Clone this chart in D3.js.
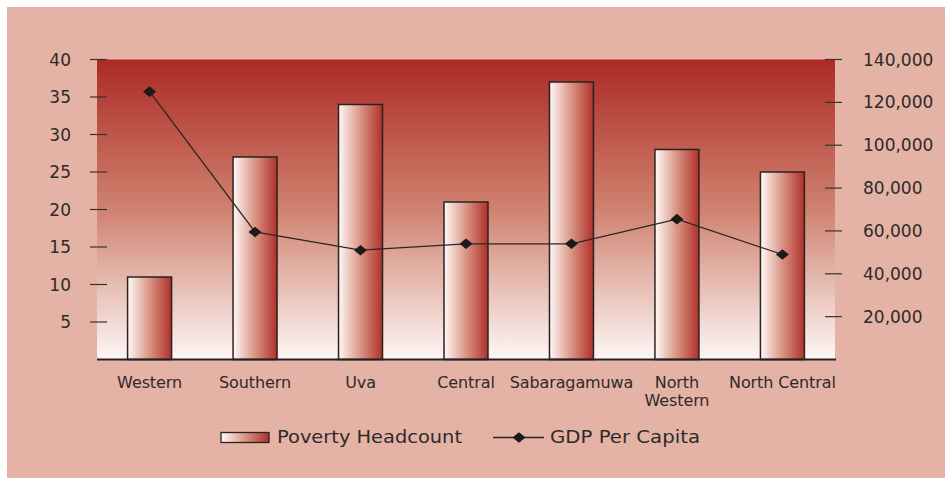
<!DOCTYPE html>
<html>
<head>
<meta charset="utf-8">
<script src="https://cdn.jsdelivr.net/npm/d3@7.9.0/dist/d3.min.js"></script>
<style>
  html, body { margin: 0; padding: 0; background: #fff; }
  svg { display: block; font-family: "DejaVu Sans", sans-serif; }
</style>
</head>
<body>
<svg id="chart" width="945" height="478"></svg>
<script>
const regions = ['Western', 'Southern', 'Uva', 'Central', 'Sabaragamuwa', 'North Western', 'North Central'];
const povertyHeadcount = [11, 27, 34, 21, 37, 28, 25];
const gdpPerCapita = [125000, 59500, 51000, 54000, 54000, 65500, 49000];
const leftTicks = [5, 10, 15, 20, 25, 30, 35, 40];
const rightTicks = [20000, 40000, 60000, 80000, 100000, 120000, 140000];

const svg = d3.select('#chart');
const plot = { left: 97, right: 835, top: 59.5, bottom: 359.5 };
const textColor = '#2e2a29';

// outer pink panel
svg.append('rect')
  .attr('x', 7).attr('y', 7)
  .attr('width', 938).attr('height', 471)
  .attr('fill', '#e4b3a5');

const defs = svg.append('defs');

const bgGrad = defs.append('linearGradient')
  .attr('id', 'bgGrad')
  .attr('x1', 0).attr('y1', 0).attr('x2', 0).attr('y2', 1);
bgGrad.append('stop').attr('offset', '0%').attr('stop-color', '#ad2a26');
bgGrad.append('stop').attr('offset', '50%').attr('stop-color', '#cf8270');
bgGrad.append('stop').attr('offset', '100%').attr('stop-color', '#fdf7f5');

const barGrad = defs.append('linearGradient')
  .attr('id', 'barGrad')
  .attr('x1', 0).attr('y1', 0).attr('x2', 1).attr('y2', 0);
barGrad.append('stop').attr('offset', '0%').attr('stop-color', '#fff9f7');
barGrad.append('stop').attr('offset', '50%').attr('stop-color', '#d99483');
barGrad.append('stop').attr('offset', '100%').attr('stop-color', '#b0302a');

// plot background
svg.append('rect')
  .attr('x', plot.left).attr('y', plot.top)
  .attr('width', plot.right - plot.left)
  .attr('height', plot.bottom - plot.top)
  .attr('fill', 'url(#bgGrad)');

let x = d3.scaleBand()
  .domain(regions)
  .range([plot.left, plot.right])
  .paddingInner(0.583)
  .paddingOuter(0.29);

let yLeft = d3.scaleLinear().domain([0, 40]).range([plot.bottom, plot.top]);
let yRight = d3.scaleLinear().domain([0, 140000]).range([plot.bottom, plot.top]);

// bars
svg.append('g')
  .selectAll('rect')
  .data(povertyHeadcount)
  .enter()
  .append('rect')
  .attr('x', (d, i) => x(regions[i]))
  .attr('y', (d) => yLeft(d))
  .attr('width', x.bandwidth())
  .attr('height', (d) => yLeft(0) - yLeft(d))
  .attr('fill', 'url(#barGrad)')
  .attr('stroke', '#2a2222')
  .attr('stroke-width', 1.5);

// x axis line
svg.append('line')
  .attr('x1', plot.left).attr('x2', plot.right + 1)
  .attr('y1', plot.bottom).attr('y2', plot.bottom)
  .attr('stroke', '#222').attr('stroke-width', 2.2);

// left axis ticks + labels
let leftG = svg.append('g');
leftG.selectAll('line')
  .data(leftTicks)
  .enter()
  .append('line')
  .attr('x1', 90).attr('x2', 107)
  .attr('y1', (d) => yLeft(d)).attr('y2', (d) => yLeft(d))
  .attr('stroke', '#333').attr('stroke-width', 1.2);
leftG.selectAll('text')
  .data(leftTicks)
  .enter()
  .append('text')
  .attr('x', 71)
  .attr('y', (d) => yLeft(d))
  .attr('dy', '0.36em')
  .attr('text-anchor', 'end')
  .attr('font-size', 17)
  .attr('fill', textColor)
  .text((d) => d);

// right axis ticks + labels
let rightG = svg.append('g');
rightG.selectAll('line')
  .data(rightTicks)
  .enter()
  .append('line')
  .attr('x1', 825).attr('x2', 842)
  .attr('y1', (d) => yRight(d)).attr('y2', (d) => yRight(d))
  .attr('stroke', '#333').attr('stroke-width', 1.2);
rightG.selectAll('text')
  .data(rightTicks)
  .enter()
  .append('text')
  .attr('x', 863)
  .attr('y', (d) => yRight(d))
  .attr('dy', '0.36em')
  .attr('font-size', 17)
  .attr('fill', textColor)
  .text((d) => d3.format(',')(d));

// category labels (wrap "North Western")
let catG = svg.append('g');
regions.forEach((name, i) => {
  let lines = name === 'North Western' ? ['North', 'Western'] : [name];
  let t = catG.append('text')
    .attr('x', x(name) + x.bandwidth() / 2)
    .attr('y', 388)
    .attr('text-anchor', 'middle')
    .attr('font-size', 16)
    .attr('letter-spacing', -0.1)
    .attr('fill', textColor);
  lines.forEach((l, j) => {
    t.append('tspan')
      .attr('x', x(name) + x.bandwidth() / 2)
      .attr('dy', j === 0 ? 0 : 18)
      .text(l);
  });
});

// GDP line
let line = d3.line()
  .x((d, i) => x(regions[i]) + x.bandwidth() / 2)
  .y((d) => yRight(d));

svg.append('path')
  .datum(gdpPerCapita)
  .attr('d', line)
  .attr('fill', 'none')
  .attr('stroke', '#2b2626')
  .attr('stroke-width', 1.3);

let diamond = d3.symbol().type(d3.symbolSquare).size(70);
svg.append('g')
  .selectAll('path')
  .data(gdpPerCapita)
  .enter()
  .append('path')
  .attr('d', diamond)
  .attr('transform', (d, i) =>
    `translate(${x(regions[i]) + x.bandwidth() / 2},${yRight(d)}) scale(1.1,0.9) rotate(45)`)
  .attr('fill', '#1e1a1a');

// legend
let legend = svg.append('g');
legend.append('rect')
  .attr('x', 221).attr('y', 432.5)
  .attr('width', 48).attr('height', 10)
  .attr('fill', 'url(#barGrad)')
  .attr('stroke', '#2a2222').attr('stroke-width', 1.3);
legend.append('text')
  .attr('x', 277).attr('y', 443)
  .attr('font-size', 17)
  .attr('textLength', 185)
  .attr('lengthAdjust', 'spacingAndGlyphs')
  .attr('fill', textColor)
  .text('Poverty Headcount');

legend.append('line')
  .attr('x1', 493).attr('x2', 544)
  .attr('y1', 437.5).attr('y2', 437.5)
  .attr('stroke', '#2b2626').attr('stroke-width', 1.3);
legend.append('path')
  .attr('d', diamond)
  .attr('transform', 'translate(519,437.5) scale(1.1,0.9) rotate(45)')
  .attr('fill', '#1e1a1a');
legend.append('text')
  .attr('x', 550).attr('y', 443)
  .attr('font-size', 17)
  .attr('textLength', 150)
  .attr('lengthAdjust', 'spacingAndGlyphs')
  .attr('fill', textColor)
  .text('GDP Per Capita');
</script>
</body>
</html>
